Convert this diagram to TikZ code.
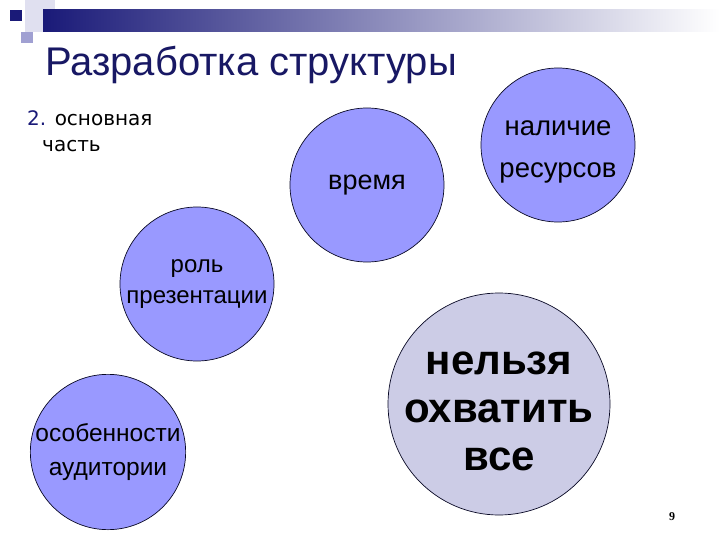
\documentclass[tikz,border=0pt]{standalone}
\usepackage{fontspec}
\setmainfont{Liberation Sans}
\newfontfamily\handfont{DejaVu Sans}
\newfontfamily\pagefont{Liberation Serif}
\definecolor{periw}{RGB}{153,153,255}
\definecolor{palebox}{RGB}{204,204,230}
\definecolor{midbox}{RGB}{160,160,210}
\definecolor{navy}{RGB}{26,26,120}
\definecolor{titleblue}{RGB}{24,24,100}
\def\fsz#1#2{\fontsize{#1}{#2}\selectfont}

\begin{document}
\begin{tikzpicture}[x=1pt,y=-1pt,
    blob/.style={circle,draw=black!70!navy,line width=0.7pt,fill=periw,
        minimum size=154pt,inner sep=0pt,align=center},
    bigblob/.style={blob,fill=palebox,minimum size=222pt},
    blobtext/.style={align=center,inner sep=0pt}]
            \useasboundingbox (0,0) rectangle (720,540);
            % header strip
            \fill[palebox!60] (25,0) rectangle (55,32);
            \shade[left color=navy,right color=white] (43,10) rectangle (720,32);
            \fill[navy] (10,10) rectangle (22,21);
            \fill[midbox] (21,32) rectangle (33,43);
            \node[anchor=base west,inner sep=0pt,text=titleblue,font=\fsz{40}{46}] (title)
                at (45,76) {Разработка структуры};
            \node[anchor=base west,align=left,inner sep=0pt,font=\handfont\fsz{20}{26}] (part)
                at (27,152) {{\color{navy}2.} основная\\\hspace{15pt}часть};
            % circles
            \node[blob,font=\fsz{27}{30}] (vremya) at (367,185) {время};
            \node[blob] (resursy) at (558,145) {};
            \node[blobtext,font=\fsz{27.5}{42}] (resursytext)
                at ([yshift=-7pt]resursy.center) {наличие\\ресурсов};
            \node[blob,font=\fsz{24}{31}] (rol) at (197,284) {роль\\презентации};
            \node[blob,font=\fsz{24.5}{34}] (audit) at (108,452) {особенности\\аудитории};
            \node[bigblob] (vse) at (499,404) {};
            \node[blobtext,font=\bfseries\fsz{42}{48}] (vsetext)
                at ([yshift=-7pt]vse.center) {нельзя\\охватить\\все};
            \node[anchor=base,font=\pagefont\bfseries\fsz{12}{14}] (page) at (672,520) {9};
        \end{tikzpicture}
\end{document}
